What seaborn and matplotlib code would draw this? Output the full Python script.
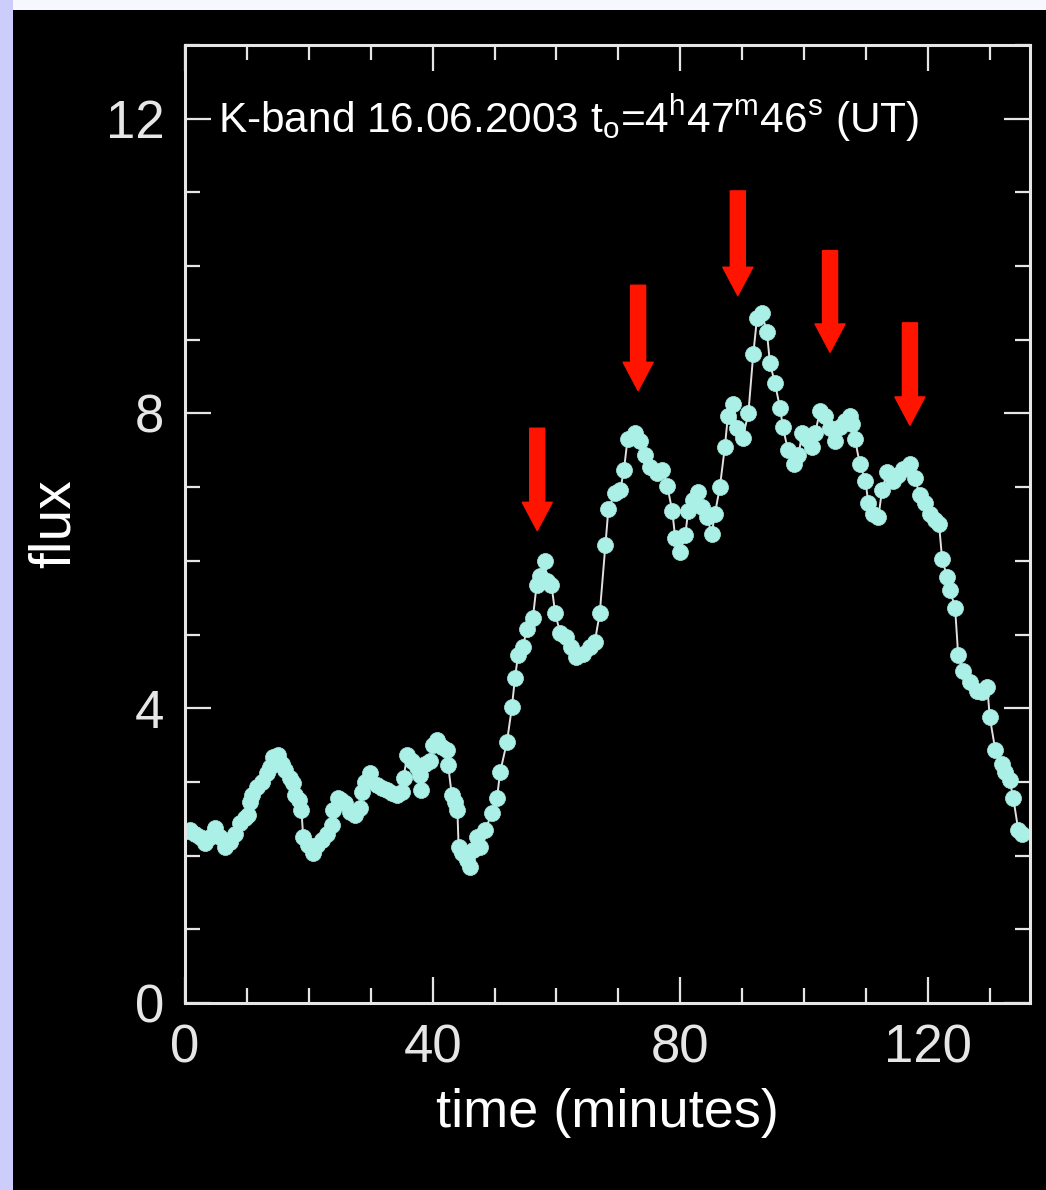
import numpy as np
import pandas as pd
import seaborn as sns
import matplotlib.pyplot as plt
from matplotlib.patches import Rectangle
from matplotlib.ticker import MultipleLocator

# dane (czas w minutach, strumień)
time_min = [
    0.3, 0.8, 1.6, 2.4, 3.2, 4.0, 4.8, 5.7, 6.5, 7.3, 8.1, 8.9, 9.7, 10.2, 10.5,
    10.8, 11.6, 12.4, 13.2, 13.7, 14.2, 15.0, 15.6, 16.2, 17.0, 17.5, 17.8, 18.4,
    18.8, 19.1, 19.9, 20.7, 21.3, 22.1, 22.9, 23.7, 23.9, 24.7, 25.2, 25.8, 26.7,
    27.5, 28.3, 28.6, 29.1, 29.9, 31.0, 31.8, 32.6, 33.4, 34.2, 35.0, 35.3, 35.9,
    36.7, 37.5, 38.0, 38.2, 38.8, 39.6, 40.1, 40.7, 41.5, 42.3, 42.5, 43.1, 43.6,
    44.0, 44.2, 44.7, 45.5, 46.0, 46.5, 47.1, 47.6, 48.5, 49.6, 50.4, 50.9, 52.0,
    52.8, 53.3, 53.8, 54.6, 55.2, 56.2, 56.8, 57.4, 58.2, 58.4, 59.2, 59.8, 60.6,
    61.6, 62.4, 63.2, 64.3, 65.4, 66.2, 67.0, 67.9, 68.4, 69.5, 70.3, 70.9, 71.5,
    72.7, 73.5, 74.3, 75.1, 76.2, 77.1, 77.9, 78.7, 79.2, 80.0, 80.8, 81.3, 82.1,
    82.9, 83.5, 84.3, 85.1, 85.6, 86.4, 87.2, 87.7, 88.5, 89.2, 90.1, 91.0, 91.8,
    92.4, 93.2, 94.0, 94.5, 95.3, 96.1, 96.6, 97.4, 98.3, 99.1, 99.7, 100.5, 101.3,
    101.8, 102.6, 103.4, 104.2, 105.0, 105.8, 106.6, 107.4, 107.8, 108.2, 109.0,
    109.9, 110.4, 111.2, 112.0, 112.6, 113.4, 114.4, 115.2, 116.0, 117.1, 117.9,
    118.7, 119.5, 120.4, 121.2, 121.8, 122.3, 123.1, 123.6, 124.4, 124.9, 125.7,
    126.8, 127.9, 128.8, 129.6, 130.0, 130.9, 132.0, 132.5, 133.2, 133.8, 134.6,
    135.2,
]
flux = [
    2.33, 2.35, 2.30, 2.25, 2.17, 2.25, 2.37, 2.25, 2.12, 2.18, 2.30, 2.44, 2.51, 2.55, 2.73,
    2.82, 2.93, 3.00, 3.12, 3.20, 3.34, 3.36, 3.25, 3.16, 3.05, 2.98, 2.82, 2.75,
    2.62, 2.25, 2.14, 2.03, 2.14, 2.21, 2.30, 2.41, 2.62, 2.78, 2.76, 2.71, 2.59,
    2.55, 2.64, 2.86, 3.00, 3.12, 2.96, 2.92, 2.89, 2.85, 2.82, 2.86, 3.06, 3.36,
    3.29, 3.20, 3.09, 2.89, 3.25, 3.29, 3.50, 3.57, 3.47, 3.43, 3.23, 2.82, 2.73,
    2.62, 2.12, 2.03, 1.94, 1.84, 2.07, 2.25, 2.12, 2.35, 2.58, 2.78, 3.13, 3.54,
    4.01, 4.41, 4.72, 4.83, 5.08, 5.23, 5.67, 5.80, 6.00, 5.73, 5.67, 5.29, 5.02,
    4.96, 4.83, 4.69, 4.74, 4.83, 4.90, 5.29, 6.21, 6.71, 6.92, 6.96, 7.23, 7.66,
    7.74, 7.63, 7.43, 7.27, 7.19, 7.23, 7.02, 6.68, 6.31, 6.12, 6.35, 6.68, 6.82,
    6.93, 6.73, 6.59, 6.37, 6.64, 7.00, 7.54, 7.97, 8.13, 7.80, 7.67, 8.00, 8.81,
    9.29, 9.36, 9.10, 8.68, 8.41, 8.08, 7.81, 7.50, 7.32, 7.43, 7.74, 7.66, 7.54,
    7.74, 8.04, 7.97, 7.80, 7.63, 7.81, 7.90, 7.97, 7.86, 7.66, 7.32,
    7.09, 6.78, 6.64, 6.59, 6.96, 7.20, 7.09, 7.16, 7.25, 7.32, 7.12,
    6.89, 6.78, 6.64, 6.55, 6.50, 6.03, 5.78, 5.60, 5.36, 4.72, 4.51,
    4.35, 4.24, 4.22, 4.29, 3.88, 3.43, 3.25, 3.13, 3.02, 2.78, 2.35,
    2.30,
]

# strzałki: pozycja x, początek (góra) i grot (dół)
arrow_x = [56.9, 73.2, 89.3, 104.2, 117.1]
arrow_top = [7.80, 9.74, 11.02, 10.21, 9.23]
arrow_tip = [6.41, 8.31, 9.60, 8.83, 7.84]

df = pd.DataFrame({"time": time_min, "flux": flux})

sns.set_theme(style="ticks", rc={
    "axes.facecolor": "black",
    "figure.facecolor": "#cdcdfb",
    "axes.edgecolor": "#e6e6e6",
    "text.color": "white",
    "axes.labelcolor": "white",
    "xtick.color": "#e6e6e6",
    "ytick.color": "#e6e6e6",
})
plt.rcParams["font.family"] = ["Liberation Sans", "DejaVu Sans"]
plt.rcParams["mathtext.fontset"] = "custom"
plt.rcParams["mathtext.rm"] = "Liberation Sans"

fig = plt.figure(figsize=(10.46, 11.9), dpi=100)
# czarne tło z jasną ramką po lewej i u góry
fig.patches.append(Rectangle((13 / 1046, 0), 1 - 13 / 1046, 1 - 10 / 1190,
                             transform=fig.transFigure, facecolor="black",
                             edgecolor="none", zorder=-1))
fig.patches.append(Rectangle((13 / 1046, 1 - 10 / 1190), 1 - 13 / 1046, 10 / 1190,
                             transform=fig.transFigure, facecolor="#f7f7ff",
                             edgecolor="none", zorder=-1))

ax = fig.add_axes([185 / 1046, 1 - 1003 / 1190, 845 / 1046, 958 / 1190])

sns.lineplot(data=df, x="time", y="flux", ax=ax, sort=False, color="#e0e0e0",
             linewidth=1.4, marker="o", markersize=11.5, markerfacecolor="#aaf0e6",
             markeredgecolor="#aaf0e6", markeredgewidth=0.5)

for x, y0, y1 in zip(arrow_x, arrow_top, arrow_tip):
    ax.annotate("", xy=(x, y1), xytext=(x, y0),
                arrowprops=dict(arrowstyle="simple,head_length=1.7,head_width=1.8,tail_width=0.9",
                                color="#ff1400", mutation_scale=12, shrinkA=0, shrinkB=0))

ax.text(5.3, 12, r"K-band 16.06.2003 t$_\mathrm{o}$=4$^\mathrm{h}$47$^\mathrm{m}$46$^\mathrm{s}$ (UT)",
        fontsize=30.5, color="white", va="center", ha="left")

ax.set_xlim(0, 136.5)
ax.set_ylim(0, 13)
ax.xaxis.set_major_locator(MultipleLocator(40))
ax.xaxis.set_minor_locator(MultipleLocator(10))
ax.yaxis.set_major_locator(MultipleLocator(4))
ax.yaxis.set_minor_locator(MultipleLocator(1))
ax.tick_params(which="both", direction="in", top=True, right=True, labelsize=38, pad=15)
ax.tick_params(which="major", length=19, width=1.6)
ax.tick_params(which="minor", length=11, width=1.6)
for s in ax.spines.values():
    s.set_linewidth(2.2)
    s.set_color("#e6e6e6")

ax.set_xlabel("time (minutes)", fontsize=39, labelpad=10)
ax.set_ylabel("flux", fontsize=41, labelpad=17)

fig.savefig("out.png", dpi=100, facecolor=fig.get_facecolor())
